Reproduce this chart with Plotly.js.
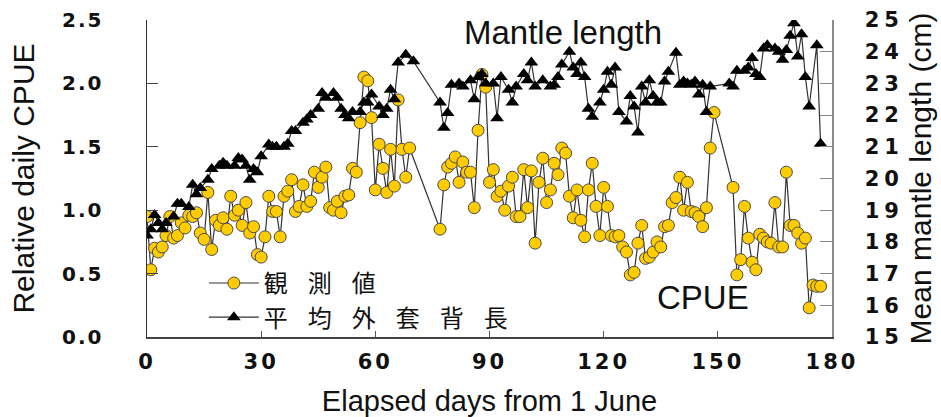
<!DOCTYPE html>
<html>
<head>
<meta charset="utf-8">
<script src="https://cdn.plot.ly/plotly-3.0.1.min.js"></script>
<style>
  html, body { margin: 0; padding: 0; background: #fff; }
  #chart { width: 941px; height: 417px; }
  .xtick text { letter-spacing: 3px; }
  .ytick text { letter-spacing: 2px; }
  .y2tick text { letter-spacing: 5px; }
  .legendtext { letter-spacing: 20px; }
</style>
</head>
<body>
<div id="chart"></div>
<script>
// ---- Data ----
const cpueDays = [0,1,2,3,4,5,6,7,8,9,10,11,12,13,14,15,16,17,18,19,20,21,22,23,24,25,26,27,28,29,30,31,32,33,34,35,36,37,38,39,40,41,42,43,44,45,46,47,48,49,50,51,52,53,54,55,56,57,58,59,60,61,62,63,64,65,66,67,68,69,77,78,79,80,81,82,83,84,85,86,87,88,89,90,91,92,93,94,95,96,97,98,99,100,101,102,103,104,105,106,107,108,109,110,111,112,113,114,115,116,117,118,119,120,121,122,123,124,125,126,127,128,129,130,131,132,133,134,135,136,137,138,139,140,141,142,143,144,145,146,147,148,149,154,155,156,157,158,159,160,161,162,163,164,165,166,167,168,169,170,171,172,173,174,175,176,177];
const cpueValues = [0.95,0.53,0.70,0.67,0.71,0.80,0.95,0.78,0.80,0.90,0.86,0.96,0.95,0.98,0.82,0.77,1.14,0.69,0.92,0.88,0.94,0.85,1.11,0.96,1.00,0.88,1.06,0.82,0.87,0.65,0.63,0.79,1.11,0.99,0.99,0.79,1.11,1.15,1.24,0.99,1.03,1.20,1.03,1.07,1.30,1.18,1.26,1.34,1.02,1.00,1.07,0.98,1.11,1.12,1.33,1.30,1.69,2.05,2.02,1.73,1.16,1.52,1.33,1.14,1.48,1.19,1.87,1.48,1.26,1.49,0.85,1.20,1.34,1.37,1.42,1.22,1.38,1.30,1.30,1.02,1.63,2.07,1.97,1.22,1.32,1.11,1.15,1.00,1.19,1.26,0.95,0.95,1.32,1.02,1.31,0.74,1.22,1.41,1.06,1.16,1.37,1.28,1.49,1.45,1.11,0.94,1.16,0.92,0.79,1.16,1.37,1.03,0.80,1.18,1.03,0.80,0.79,0.80,0.71,0.67,0.49,0.51,0.74,0.88,0.62,0.63,0.67,0.75,0.71,0.87,0.88,1.06,1.10,1.26,1.00,1.22,0.99,0.98,0.95,0.87,1.02,1.49,1.77,1.18,0.49,0.61,1.03,0.78,0.59,0.53,0.81,0.78,0.75,0.74,1.06,0.71,0.71,1.30,0.88,0.88,0.82,0.74,0.78,0.23,0.41,0.40,0.40];

const mantleDays = [0,1,2,3,4,5,7,8,9,11,12,13,14,16,17,19,20,21,23,24,25,26,27,28,29,30,32,33,34,36,37,38,39,41,42,43,45,46,47,49,50,51,52,53,54,56,57,58,59,61,62,63,64,65,66,68,70,77,78,79,80,82,83,85,86,87,88,89,91,92,93,95,96,97,99,100,101,102,104,106,107,108,109,111,112,113,114,115,116,117,119,120,121,122,123,124,126,127,128,129,130,131,132,133,134,135,136,137,139,140,141,142,143,144,145,146,147,148,153,154,155,157,158,159,160,161,162,163,165,166,167,168,169,170,171,172,173,174,176,177];
const mantleValues = [18.2,18.4,18.85,18.6,18.4,18.6,18.8,19.2,19.2,19.1,19.8,19.5,19.7,19.96,20.3,20.4,20.5,20.4,20.4,20.65,20.6,20.4,19.96,20.3,20.2,20.7,21.07,21.0,21.0,21.0,21.1,21.5,21.5,21.76,21.86,22.0,22.2,22.7,22.55,22.7,22.55,22.2,22.0,21.9,22.1,22.1,22.4,22.4,22.65,22.27,22.0,22.2,22.8,22.5,23.66,23.9,23.7,22.4,21.6,22.07,22.96,23.0,22.9,23.1,22.5,23.2,23.3,23.0,23.0,21.9,23.2,22.8,22.4,22.9,23.3,23.1,23.66,22.9,23.1,22.9,22.96,23.2,23.6,24.0,23.5,23.3,23.66,23.2,22.2,21.95,22.4,22.8,23.37,22.96,23.5,22.1,21.8,22.6,22.27,21.45,22.9,22.4,23.1,22.6,22.4,22.4,23.06,23.37,23.97,22.96,23.06,23.0,22.96,23.06,22.65,22.96,22.1,22.9,23.0,22.9,23.4,23.4,23.5,23.8,23.3,23.2,24.1,24.2,24.1,24.0,23.75,24.05,24.5,24.9,23.85,24.55,23.2,22.27,24.2,21.1];

const xTicks = [0,30,60,90,120,150,180];
const yTicks = [0,0.5,1.0,1.5,2.0,2.5];
const yTickLabels = ['0.0','0.5','1.0','1.5','2.0','2.5'];
const y2Ticks = [15,16,17,18,19,20,21,22,23,24,25];

const seriesNames = ['観測値','平均外套背長'];
const xTitle = 'Elapsed days from 1 June';
const yTitle = 'Relative daily CPUE';
const y2Title = 'Mean mantle length (cm)';
const noteMantle = 'Mantle length';
const noteCpue = 'CPUE';

// ---- Chart ----
const titleFontFamily = 'Liberation Sans, Arial, sans-serif';

const traces = [
  {
    x: cpueDays, y: cpueValues, name: seriesNames[0], yaxis: 'y',
    type: 'scatter', mode: 'lines+markers',
    line: {color: '#333', width: 1.2},
    marker: {symbol: 'circle', size: 12, color: '#FFCC00', line: {color: '#4a4a4a', width: 1}}
  },
  {
    x: mantleDays, y: mantleValues, name: seriesNames[1], yaxis: 'y2',
    type: 'scatter', mode: 'lines+markers',
    line: {color: '#333', width: 1.2},
    marker: {symbol: 'triangle-up', size: 12, color: '#000', line: {color: '#000', width: 0}}
  }
];

const layout = {
  width: 941, height: 417,
  margin: {l: 147, r: 109, t: 20, b: 80, pad: 0},
  paper_bgcolor: '#fff', plot_bgcolor: '#fff',
  showlegend: true,
  legend: {
    x: 0.083, xanchor: 'left', y: 0.24, yanchor: 'top',
    bgcolor: 'rgba(0,0,0,0)', borderwidth: 0,
    font: {family: 'Noto Sans CJK JP', size: 24, color: '#111'},
    itemwidth: 50, tracegroupgap: 0
  },
  xaxis: {
    range: [0, 180], tickvals: xTicks, ticks: 'inside', ticklen: 6, tickcolor: '#555', tickwidth: 1,
    showline: true, linecolor: '#444', linewidth: 1.5, showgrid: false, zeroline: false,
    tickfont: {family: 'DejaVu Sans', size: 21, weight: 'bold', color: '#111'}, ticklabelstandoff: 5,
    title: {text: xTitle, font: {family: titleFontFamily, size: 29, color: '#111'}, standoff: 20}
  },
  yaxis: {
    range: [0, 2.5], tickvals: yTicks, ticktext: yTickLabels, ticks: 'inside', ticklen: 11,
    tickcolor: '#444', tickwidth: 1, showline: true, linecolor: '#333', linewidth: 1.5,
    showgrid: false, zeroline: false,
    tickfont: {family: 'DejaVu Sans', size: 20, weight: 'bold', color: '#111'}, ticklabelstandoff: 38,
    title: {text: yTitle, font: {family: titleFontFamily, size: 30, color: '#111'}, standoff: 18}
  },
  yaxis2: {
    overlaying: 'y', side: 'right', range: [15, 25], tickvals: y2Ticks, ticks: 'inside', ticklen: 12,
    tickcolor: '#888', tickwidth: 1, showline: true, linecolor: '#8a8a8a', linewidth: 1.5,
    showgrid: false, zeroline: false,
    tickfont: {family: 'DejaVu Sans', size: 21, weight: 'bold', color: '#111'},
    ticklabelstandoff: 27,
    title: {text: y2Title, font: {family: titleFontFamily, size: 30, color: '#111'}, standoff: 4}
  },
  annotations: [
    {text: noteMantle, xref: 'paper', yref: 'paper', x: 0.607, y: 0.96, xanchor: 'center', yanchor: 'middle',
     showarrow: false, font: {family: titleFontFamily, size: 33, color: '#111'}},
    {text: noteCpue, xref: 'paper', yref: 'paper', x: 0.812, y: 0.125, xanchor: 'center', yanchor: 'middle',
     showarrow: false, font: {family: titleFontFamily, size: 33, color: '#111'}}
  ]
};

Plotly.newPlot('chart', traces, layout, {staticPlot: true, displayModeBar: false});
</script>
</body>
</html>
